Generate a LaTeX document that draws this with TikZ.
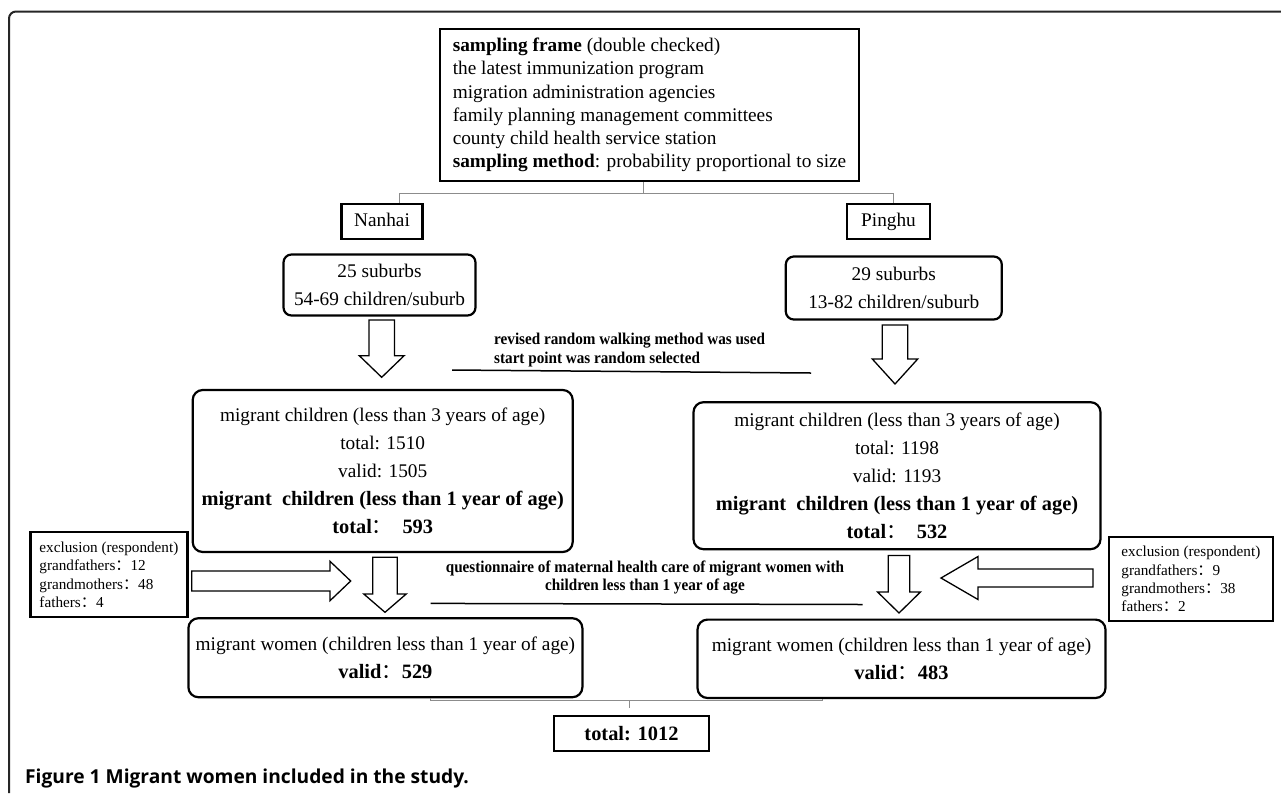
\documentclass[tikz,border=0pt]{standalone}
\usepackage{fontspec}
\usepackage{graphicx}
\setmainfont{Liberation Serif}
\newfontfamily\cjk{Noto Sans CJK SC}
\newfontfamily\capfont{Open Sans}
\usetikzlibrary{calc}
\newcommand\fwc{{\cjk\mdseries ：}}
\newcommand\bigb[1]{{\fontsize{20.4}{28}\selectfont\bfseries #1}}
\newcommand\cond[1]{\scalebox{0.92}[1]{#1}}
\newcommand\dnarrow[6]{% x, ytop, yhead, ytip, shaft half, head half
  \draw[blockarrow] ({#1-#5},#2) -- ({#1+#5},#2) -- ({#1+#5},#3) -- ({#1+#6},#3) -- (#1,#4) -- ({#1-#6},#3) -- ({#1-#5},#3) -- cycle;}
\newcommand\hzarrow[6]{% y, xstart, xhead, xtip, shaft half, head half
  \draw[blockarrow] (#2,{#1-#5}) -- (#3,{#1-#5}) -- (#3,{#1-#6}) -- (#4,#1) -- (#3,{#1+#6}) -- (#3,{#1+#5}) -- (#2,{#1+#5}) -- cycle;}
\begin{document}
\begin{tikzpicture}[x=1pt,y=-1pt,
  sq/.style={draw, line width=2.5pt, inner sep=0pt, align=center},
  rbox/.style={draw, rounded corners=10pt, line width=2.2pt, inner sep=0pt, align=center},
  main/.style={font=\fontsize{19.3}{28}\selectfont},
  excl/.style={draw, line width=2.5pt, inner sep=0pt, align=left, font=\fontsize{15.2}{18.2}\selectfont},
  note/.style={font=\bfseries\fontsize{16.5}{18.7}\selectfont, inner sep=0pt},
  blockarrow/.style={draw, line width=1.3pt, fill=white, line join=miter},
  bracket/.style={draw=black!45, line width=1pt},
  rule/.style={line width=1.5pt}]
\useasboundingbox (0,0) rectangle (1281,793);
% outer frame
\draw[line width=2pt, draw=black!85, rounded corners=7pt] (9,793) -- (9,11.5) -- (1281,11.5);

% top box
\node[sq, line width=2.7pt, minimum width=419, minimum height=152, align=left,
      font=\fontsize{19.3}{23.2}\selectfont] (top) at (649.5,105)
  {\textbf{sampling frame} (double checked)\\
   the latest immunization program\\
   migration administration agencies\\
   family planning management committees\\
   county child health service station\\
   \textbf{sampling method}: probability proportional to size};

\node[sq, main, text height=13, text depth=4, minimum width=81, minimum height=35] (nanhai) at (382,221.5) {Nanhai};
\node[sq, main, text height=13, text depth=4, minimum width=83, minimum height=35] (pinghu) at (888.5,221.5) {Pinghu};

% top bracket
\coordinate (btL) at (399,193);
\coordinate (btR) at (893,193);
\coordinate (btM) at (643,193);
\draw[bracket] (top.south -| btM) -- (btM);
\draw[bracket] (nanhai.north -| btL) -- (btL) -- (btR) -- (pinghu.north -| btR);

\node[rbox, main, rounded corners=8pt, minimum width=192, minimum height=61] (sub1) at (379.5,285)
  {25 suburbs\\54-69 children/suburb};
\node[rbox, main, rounded corners=8pt, minimum width=216, minimum height=63] (sub2) at (893.8,288)
  {29 suburbs\\13-82 children/suburb};

\dnarrow{381.7}{320}{355.7}{377.3}{12.7}{22.4}
\dnarrow{895}{325}{359}{384}{12.8}{22.7}

\node[note, anchor=west, align=left] (walk) at (494,349.7)
  {\cond{revised random walking method was used}\\\cond{start point was random selected}};
\coordinate (w1) at (452,370);
\coordinate (w2) at (811,373);
\draw[rule] (w1) -- (w2);

\node[rbox, main, minimum width=380, minimum height=162] (mc1) at (382.7,471)
  {migrant children (less than 3 years of age)\\
   total: 1510\\
   valid: 1505\\
   \bigb{migrant~ children (less than 1 year of age)}\\
   \bigb{total\fwc~ 593}};
\node[rbox, main, minimum width=407, minimum height=147] (mc2) at (897,475.7)
  {migrant children (less than 3 years of age)\\
   total: 1198\\
   valid: 1193\\
   \bigb{migrant~ children (less than 1 year of age)}\\
   \bigb{total\fwc~ 532}};

\node[excl, minimum width=157.3, minimum height=85] (ex1) at (108.9,574.7)
  {exclusion (respondent)\\grandfathers\fwc 12\\grandmothers\fwc 48\\fathers\fwc 4};
\node[excl, minimum width=164.3, minimum height=84] (ex2) at (1190.9,579)
  {exclusion (respondent)\\grandfathers\fwc 9\\grandmothers\fwc 38\\fathers\fwc 2};

\hzarrow{581}{191.7}{330}{350.7}{10}{19.7}
\hzarrow{578}{1093}{978}{941}{9}{21.5}
\dnarrow{385}{557.3}{594}{612.3}{12.2}{21.2}
\dnarrow{899}{555.4}{592}{613}{10.8}{21.4}

\node[note, align=center] (quest) at (645,577.4)
  {\cond{questionnaire of maternal health care of migrant women with}\\\cond{children less than 1 year of age}};
\coordinate (q1) at (430.6,603.4);
\coordinate (q2) at (862.7,604.5);
\draw[rule] (q1) -- (q2);

\node[rbox, main, minimum width=394, minimum height=79] (mw1) at (385.4,657.7)
  {migrant women (children less than 1 year of age)\\\bigb{valid\fwc 529}};
\node[rbox, main, minimum width=408, minimum height=78.4] (mw2) at (901.5,658.8)
  {migrant women (children less than 1 year of age)\\\bigb{valid\fwc 483}};

\node[sq, main, minimum width=155, minimum height=35.3] (total) at (631.5,733.4) {\bigb{total: 1012}};

% bottom bracket
\coordinate (bbL) at (430.6,700.5);
\coordinate (bbR) at (822.7,700.5);
\coordinate (bbM) at (629,700.5);
\draw[bracket] (mw1.south -| bbL) -- (bbL) -- (bbR) -- (mw2.south -| bbR);
\draw[bracket] (bbM) -- ++(0,7.5);

\node[anchor=base west, inner sep=0pt, font=\capfont\bfseries\fontsize{19.2}{22}\selectfont] (cap) at (25,783)
  {Figure 1 Migrant women included in the study.};
\end{tikzpicture}
\end{document}
